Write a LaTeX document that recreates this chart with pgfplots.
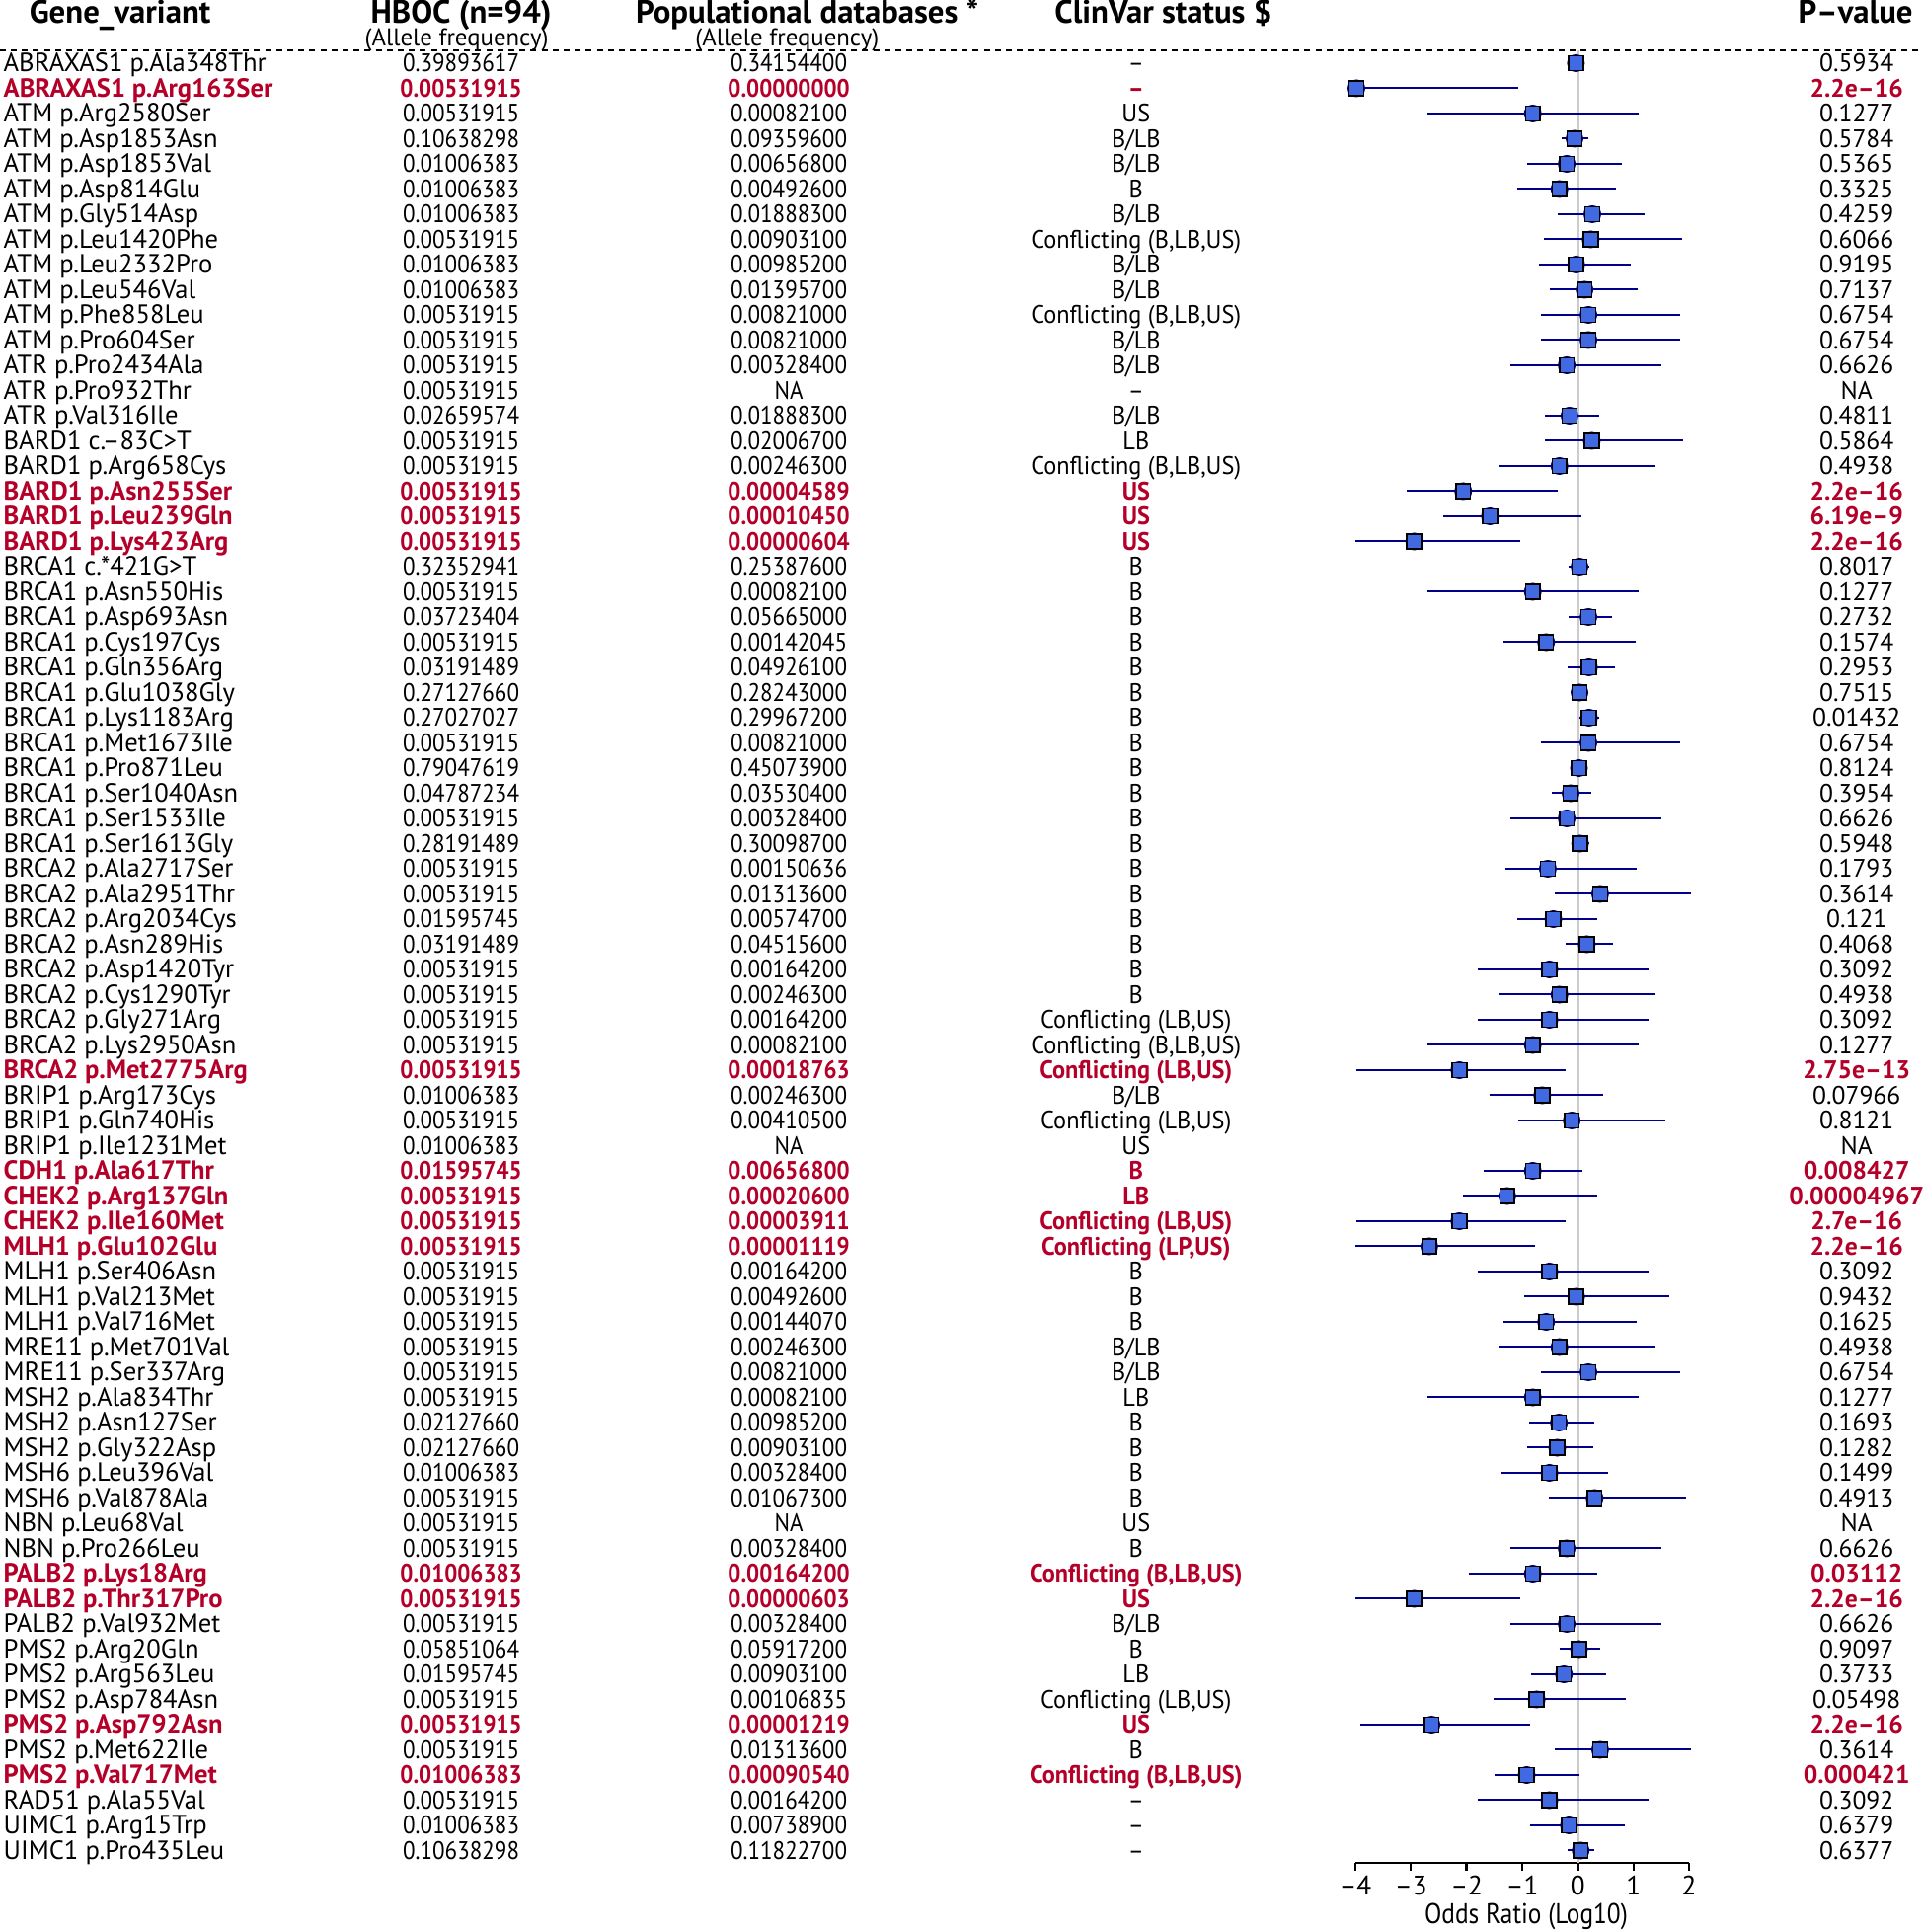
\documentclass[border=0pt]{standalone}
\usepackage{pgfplots}
\pgfplotsset{compat=1.18}
\usepackage{pgfplotstable}
\usepackage{fontspec}
\setmainfont{PT Sans}
\newfontfamily\narrowfont[FakeStretch=0.9]{PT Sans}
\newfontfamily\condfont[FakeStretch=0.88]{PT Sans}
\newfontfamily\clinfont[FakeStretch=0.95]{PT Sans}
\definecolor{hlred}{RGB}{180,0,40}
\definecolor{royal}{RGB}{65,105,225}
\definecolor{ciblue}{RGB}{0,0,139}
\newcommand\hlt{\color{hlred}\bfseries}
\newcommand\rowfont{\fontsize{6.4}{7}\selectfont}
\tikzset{
  cell/.style={anchor=base, inner sep=0pt, yshift=-2.2pt, font=\rowfont},
  ncell/.style={anchor=base, inner sep=0pt, yshift=-2.2pt, font=\narrowfont\rowfont},
  ccell/.style={anchor=base, inner sep=0pt, yshift=-2.2pt, font=\clinfont\rowfont},
  hl/.style={text=hlred},
  head/.style={anchor=base, inner sep=0pt, font=\fontsize{8.2}{9}\selectfont\bfseries},
  sub/.style={anchor=base, inner sep=0pt, font=\fontsize{6.2}{7}\selectfont},
}
\newcommand\rw[5]{%
  \node[ncell] at (axis cs:-20.07,#1) {#2};
  \node[ncell] at (axis cs:-14.18,#1) {#3};
  \node[ccell] at (axis cs:-7.94,#1) {#4};
  \node[cell] at (axis cs:5.01,#1) {#5};}
\newcommand\rr[5]{%
  \node[ncell,hl] at (axis cs:-20.07,#1) {\bfseries #2};
  \node[ncell,hl] at (axis cs:-14.18,#1) {\bfseries #3};
  \node[ccell,hl] at (axis cs:-7.94,#1) {\bfseries #4};
  \node[cell,hl] at (axis cs:5.01,#1) {\bfseries #5};}

\pgfplotstableread{
row est lo hi
1 -0.035 -0.175 0.117
2 -3.98 -3.98 -1.07
3 -0.81 -2.70 1.09
4 -0.06 -0.29 0.19
5 -0.20 -0.92 0.79
6 -0.33 -1.09 0.68
7 0.26 -0.37 1.20
8 0.23 -0.61 1.87
9 -0.03 -0.70 0.95
10 0.12 -0.51 1.08
11 0.19 -0.67 1.84
12 0.19 -0.67 1.84
13 -0.20 -1.22 1.50
15 -0.15 -0.59 0.39
16 0.25 -0.60 1.89
17 -0.33 -1.43 1.40
18 -2.06 -3.07 -0.36
19 -1.58 -2.42 0.06
20 -2.94 -3.99 -1.03
21 0.03 -0.16 0.21
22 -0.81 -2.70 1.09
23 0.19 -0.16 0.62
24 -0.57 -1.33 1.04
25 0.20 -0.19 0.67
26 0.03 -0.13 0.19
27 0.20 0.02 0.38
28 0.19 -0.67 1.84
29 0.02 -0.13 0.17
30 -0.13 -0.46 0.25
31 -0.20 -1.22 1.50
32 0.04 -0.11 0.20
33 -0.54 -1.31 1.06
34 0.40 -0.42 2.03
35 -0.44 -1.09 0.34
36 0.16 -0.22 0.63
37 -0.51 -1.80 1.27
38 -0.33 -1.43 1.40
39 -0.51 -1.80 1.27
40 -0.81 -2.70 1.09
41 -2.13 -3.98 -0.22
42 -0.64 -1.58 0.45
43 -0.11 -1.07 1.57
45 -0.81 -1.69 0.08
46 -1.27 -2.07 0.34
47 -2.13 -3.98 -0.22
48 -2.67 -3.99 -0.77
49 -0.51 -1.80 1.27
50 -0.03 -0.96 1.64
51 -0.57 -1.33 1.05
52 -0.33 -1.43 1.40
53 0.19 -0.67 1.84
54 -0.81 -2.70 1.09
55 -0.34 -0.88 0.30
56 -0.37 -0.91 0.27
57 -0.51 -1.37 0.55
58 0.30 -0.53 1.94
60 -0.20 -1.22 1.50
61 -0.81 -1.96 0.34
62 -2.94 -3.99 -1.03
63 -0.20 -1.22 1.50
64 0.02 -0.33 0.40
65 -0.25 -0.84 0.51
66 -0.74 -1.51 0.87
67 -2.63 -3.91 -0.85
68 0.40 -0.42 2.03
69 -0.92 -1.50 0.02
70 -0.51 -1.80 1.27
71 -0.16 -0.85 0.84
72 0.05 -0.18 0.30
}\forest

\begin{document}
\begin{tikzpicture}
\path[use as bounding box] (0,0) rectangle (486.75pt,-489.25pt);
\begin{axis}[
  at={(385.5pt,-242.3pt)}, anchor=center,
  scale only axis, width=84.55pt, height=459pt,
  xmin=-4, xmax=2, ymin=0.5, ymax=72.5, y dir=reverse,
  clip=false,
  axis x line=bottom, axis y line=left,
  x axis line style={-, line width=0.6pt},
  y axis line style={draw=none},
  xtick={-4,-3,-2,-1,0,1,2}, xticklabels={–4,–3,–2,–1,0,1,2},
  tick align=outside, major tick length=2pt,
  x tick style={black, line width=0.6pt},
  xticklabel style={font=\fontsize{6.8}{8}\selectfont, inner sep=1pt},
  xlabel={Odds Ratio (Log10)},
  xlabel style={font=\condfont\fontsize{7.2}{9}\selectfont, xshift=1pt, yshift=2.5pt},
  ytick={1,...,72}, y tick style={draw=none},
  yticklabel style={anchor=base west, inner sep=0pt, xshift=-340.5pt, yshift=-2.2pt, font=\fontsize{6.65}{7}\selectfont},
  yticklabels={
    ABRAXAS1 p.Ala348Thr, {\hlt ABRAXAS1 p.Arg163Ser}, ATM p.Arg2580Ser, ATM p.Asp1853Asn,
    ATM p.Asp1853Val, ATM p.Asp814Glu, ATM p.Gly514Asp, ATM p.Leu1420Phe,
    ATM p.Leu2332Pro, ATM p.Leu546Val, ATM p.Phe858Leu, ATM p.Pro604Ser,
    ATR p.Pro2434Ala, ATR p.Pro932Thr, ATR p.Val316Ile, BARD1 c.–83C>T,
    BARD1 p.Arg658Cys, {\hlt BARD1 p.Asn255Ser}, {\hlt BARD1 p.Leu239Gln}, {\hlt BARD1 p.Lys423Arg},
    BRCA1 c.*421G>T, BRCA1 p.Asn550His, BRCA1 p.Asp693Asn, BRCA1 p.Cys197Cys,
    BRCA1 p.Gln356Arg, BRCA1 p.Glu1038Gly, BRCA1 p.Lys1183Arg, BRCA1 p.Met1673Ile,
    BRCA1 p.Pro871Leu, BRCA1 p.Ser1040Asn, BRCA1 p.Ser1533Ile, BRCA1 p.Ser1613Gly,
    BRCA2 p.Ala2717Ser, BRCA2 p.Ala2951Thr, BRCA2 p.Arg2034Cys, BRCA2 p.Asn289His,
    BRCA2 p.Asp1420Tyr, BRCA2 p.Cys1290Tyr, BRCA2 p.Gly271Arg, BRCA2 p.Lys2950Asn,
    {\hlt BRCA2 p.Met2775Arg}, BRIP1 p.Arg173Cys, BRIP1 p.Gln740His, BRIP1 p.Ile1231Met,
    {\hlt CDH1 p.Ala617Thr}, {\hlt CHEK2 p.Arg137Gln}, {\hlt CHEK2 p.Ile160Met}, {\hlt MLH1 p.Glu102Glu},
    MLH1 p.Ser406Asn, MLH1 p.Val213Met, MLH1 p.Val716Met, MRE11 p.Met701Val,
    MRE11 p.Ser337Arg, MSH2 p.Ala834Thr, MSH2 p.Asn127Ser, MSH2 p.Gly322Asp,
    MSH6 p.Leu396Val, MSH6 p.Val878Ala, NBN p.Leu68Val, NBN p.Pro266Leu,
    {\hlt PALB2 p.Lys18Arg}, {\hlt PALB2 p.Thr317Pro}, PALB2 p.Val932Met, PMS2 p.Arg20Gln,
    PMS2 p.Arg563Leu, PMS2 p.Asp784Asn, {\hlt PMS2 p.Asp792Asn}, PMS2 p.Met622Ile,
    {\hlt PMS2 p.Val717Met}, RAD51 p.Ala55Val, UIMC1 p.Arg15Trp, UIMC1 p.Pro435Leu},
]
% reference line at zero
\addplot[black!20, line width=0.6pt] coordinates {(0,0.5) (0,72.5)};
% confidence intervals
\addplot[ciblue, line width=0.5pt, only marks, mark=none,
  error bars/.cd, x dir=both, x explicit, error mark=none,
  error bar style={ciblue, line width=0.5pt}]
  table[x=est, y=row, x error plus expr=\thisrow{hi}-\thisrow{est},
        x error minus expr=\thisrow{est}-\thisrow{lo}] {\forest};
% point estimates
\addplot[only marks, mark=square*, mark size=1.85pt,
  mark options={fill=royal, draw=none}] table[x=est, y=row] {\forest};

% header
\draw[dash pattern=on 1.5pt off 1.3pt, line width=0.45pt] (axis cs:-28.36,0.5) -- (axis cs:6.18,0.5);
\node[head] at (axis cs:-26.2,-0.58) {Gene\_variant};
\node[head] at (axis cs:-20.07,-0.58) {HBOC (n=94)};
\node[head] at (axis cs:-13.85,-0.58) {Populational databases *};
\node[head] at (axis cs:-7.45,-0.58) {ClinVar status \$};
\node[head] at (axis cs:4.99,-0.58) {P–value};
\node[sub] at (axis cs:-20.15,0.33) {(Allele frequency)};
\node[sub] at (axis cs:-14.21,0.33) {(Allele frequency)};

% table rows
\rw{1}{0.39893617}{0.34154400}{–}{0.5934}
\rr{2}{0.00531915}{0.00000000}{–}{2.2e–16}
\rw{3}{0.00531915}{0.00082100}{US}{0.1277}
\rw{4}{0.10638298}{0.09359600}{B/LB}{0.5784}
\rw{5}{0.01006383}{0.00656800}{B/LB}{0.5365}
\rw{6}{0.01006383}{0.00492600}{B}{0.3325}
\rw{7}{0.01006383}{0.01888300}{B/LB}{0.4259}
\rw{8}{0.00531915}{0.00903100}{Conflicting (B,LB,US)}{0.6066}
\rw{9}{0.01006383}{0.00985200}{B/LB}{0.9195}
\rw{10}{0.01006383}{0.01395700}{B/LB}{0.7137}
\rw{11}{0.00531915}{0.00821000}{Conflicting (B,LB,US)}{0.6754}
\rw{12}{0.00531915}{0.00821000}{B/LB}{0.6754}
\rw{13}{0.00531915}{0.00328400}{B/LB}{0.6626}
\rw{14}{0.00531915}{NA}{–}{NA}
\rw{15}{0.02659574}{0.01888300}{B/LB}{0.4811}
\rw{16}{0.00531915}{0.02006700}{LB}{0.5864}
\rw{17}{0.00531915}{0.00246300}{Conflicting (B,LB,US)}{0.4938}
\rr{18}{0.00531915}{0.00004589}{US}{2.2e–16}
\rr{19}{0.00531915}{0.00010450}{US}{6.19e–9}
\rr{20}{0.00531915}{0.00000604}{US}{2.2e–16}
\rw{21}{0.32352941}{0.25387600}{B}{0.8017}
\rw{22}{0.00531915}{0.00082100}{B}{0.1277}
\rw{23}{0.03723404}{0.05665000}{B}{0.2732}
\rw{24}{0.00531915}{0.00142045}{B}{0.1574}
\rw{25}{0.03191489}{0.04926100}{B}{0.2953}
\rw{26}{0.27127660}{0.28243000}{B}{0.7515}
\rw{27}{0.27027027}{0.29967200}{B}{0.01432}
\rw{28}{0.00531915}{0.00821000}{B}{0.6754}
\rw{29}{0.79047619}{0.45073900}{B}{0.8124}
\rw{30}{0.04787234}{0.03530400}{B}{0.3954}
\rw{31}{0.00531915}{0.00328400}{B}{0.6626}
\rw{32}{0.28191489}{0.30098700}{B}{0.5948}
\rw{33}{0.00531915}{0.00150636}{B}{0.1793}
\rw{34}{0.00531915}{0.01313600}{B}{0.3614}
\rw{35}{0.01595745}{0.00574700}{B}{0.121}
\rw{36}{0.03191489}{0.04515600}{B}{0.4068}
\rw{37}{0.00531915}{0.00164200}{B}{0.3092}
\rw{38}{0.00531915}{0.00246300}{B}{0.4938}
\rw{39}{0.00531915}{0.00164200}{Conflicting (LB,US)}{0.3092}
\rw{40}{0.00531915}{0.00082100}{Conflicting (B,LB,US)}{0.1277}
\rr{41}{0.00531915}{0.00018763}{Conflicting (LB,US)}{2.75e–13}
\rw{42}{0.01006383}{0.00246300}{B/LB}{0.07966}
\rw{43}{0.00531915}{0.00410500}{Conflicting (LB,US)}{0.8121}
\rw{44}{0.01006383}{NA}{US}{NA}
\rr{45}{0.01595745}{0.00656800}{B}{0.008427}
\rr{46}{0.00531915}{0.00020600}{LB}{0.00004967}
\rr{47}{0.00531915}{0.00003911}{Conflicting (LB,US)}{2.7e–16}
\rr{48}{0.00531915}{0.00001119}{Conflicting (LP,US)}{2.2e–16}
\rw{49}{0.00531915}{0.00164200}{B}{0.3092}
\rw{50}{0.00531915}{0.00492600}{B}{0.9432}
\rw{51}{0.00531915}{0.00144070}{B}{0.1625}
\rw{52}{0.00531915}{0.00246300}{B/LB}{0.4938}
\rw{53}{0.00531915}{0.00821000}{B/LB}{0.6754}
\rw{54}{0.00531915}{0.00082100}{LB}{0.1277}
\rw{55}{0.02127660}{0.00985200}{B}{0.1693}
\rw{56}{0.02127660}{0.00903100}{B}{0.1282}
\rw{57}{0.01006383}{0.00328400}{B}{0.1499}
\rw{58}{0.00531915}{0.01067300}{B}{0.4913}
\rw{59}{0.00531915}{NA}{US}{NA}
\rw{60}{0.00531915}{0.00328400}{B}{0.6626}
\rr{61}{0.01006383}{0.00164200}{Conflicting (B,LB,US)}{0.03112}
\rr{62}{0.00531915}{0.00000603}{US}{2.2e–16}
\rw{63}{0.00531915}{0.00328400}{B/LB}{0.6626}
\rw{64}{0.05851064}{0.05917200}{B}{0.9097}
\rw{65}{0.01595745}{0.00903100}{LB}{0.3733}
\rw{66}{0.00531915}{0.00106835}{Conflicting (LB,US)}{0.05498}
\rr{67}{0.00531915}{0.00001219}{US}{2.2e–16}
\rw{68}{0.00531915}{0.01313600}{B}{0.3614}
\rr{69}{0.01006383}{0.00090540}{Conflicting (B,LB,US)}{0.000421}
\rw{70}{0.00531915}{0.00164200}{–}{0.3092}
\rw{71}{0.01006383}{0.00738900}{–}{0.6379}
\rw{72}{0.10638298}{0.11822700}{–}{0.6377}
\end{axis}
\end{tikzpicture}
\end{document}
